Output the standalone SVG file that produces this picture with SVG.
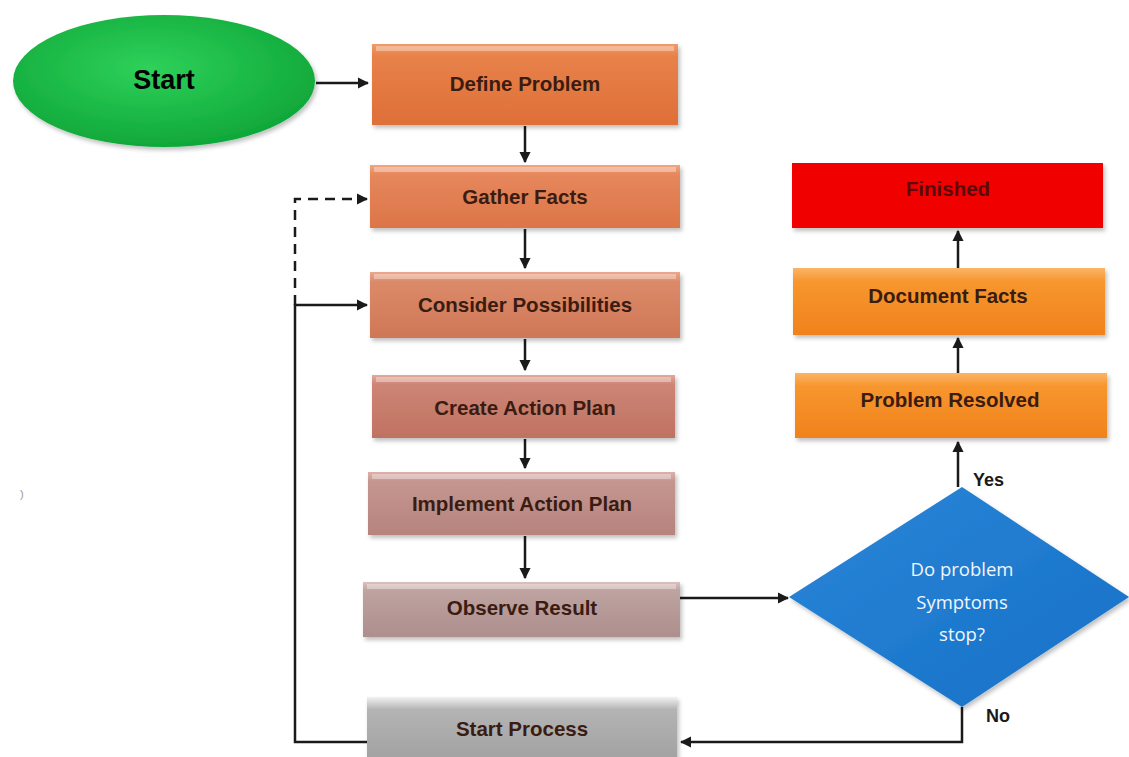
<svg xmlns="http://www.w3.org/2000/svg" width="1129" height="757" viewBox="0 0 1129 757">
  <style>
    .lbl { font-family: "Liberation Sans", Arial, sans-serif; font-weight: bold; font-size: 20.5px; fill: #3a1c12; text-anchor: middle; dominant-baseline: central; }
    .conn { fill: none; stroke: #1a1a1a; stroke-width: 2.5; }
    .dash { stroke-dasharray: 10 7; }
    .tag { font-family: "Liberation Sans", Arial, sans-serif; font-weight: bold; font-size: 18px; fill: #1a1a1a; dominant-baseline: central; }
    .dtext { font-family: "Open Sans", "Liberation Sans", sans-serif; font-size: 18.5px; fill: #f0f6fc; text-anchor: middle; dominant-baseline: central; }
    .hl { fill: #ffffff; opacity: 0.35; }
  </style>
  <defs>
    <marker id="arr" viewBox="0 0 10 10" refX="9" refY="5" markerWidth="4.6" markerHeight="4.6" orient="auto-start-reverse">
      <path d="M0,0 L10,5 L0,10 z" fill="#1a1a1a"/>
    </marker>
    <radialGradient id="gStart" cx="0.45" cy="0.4" r="0.6">
      <stop offset="0" stop-color="#2ed15a"/>
      <stop offset="1" stop-color="#10a83a"/>
    </radialGradient>
    <linearGradient id="gDefine" x1="0" y1="0" x2="0" y2="1">
      <stop offset="0" stop-color="#f09b68"/><stop offset="0.15" stop-color="#e8814a"/><stop offset="1" stop-color="#de6f38"/>
    </linearGradient>
    <linearGradient id="gGather" x1="0" y1="0" x2="0" y2="1">
      <stop offset="0" stop-color="#f2a680"/><stop offset="0.15" stop-color="#e6875c"/><stop offset="1" stop-color="#dc7548"/>
    </linearGradient>
    <linearGradient id="gConsider" x1="0" y1="0" x2="0" y2="1">
      <stop offset="0" stop-color="#eba78c"/><stop offset="0.15" stop-color="#db8a69"/><stop offset="1" stop-color="#cf7756"/>
    </linearGradient>
    <linearGradient id="gCreate" x1="0" y1="0" x2="0" y2="1">
      <stop offset="0" stop-color="#e3a99b"/><stop offset="0.15" stop-color="#cd8575"/><stop offset="1" stop-color="#c07262"/>
    </linearGradient>
    <linearGradient id="gImpl" x1="0" y1="0" x2="0" y2="1">
      <stop offset="0" stop-color="#ddb1aa"/><stop offset="0.15" stop-color="#c59690"/><stop offset="1" stop-color="#b6837d"/>
    </linearGradient>
    <linearGradient id="gObserve" x1="0" y1="0" x2="0" y2="1">
      <stop offset="0" stop-color="#dcc1bf"/><stop offset="0.15" stop-color="#bea3a1"/><stop offset="1" stop-color="#ad8f8d"/>
    </linearGradient>
    <linearGradient id="gProcess" x1="0" y1="0" x2="0" y2="1">
      <stop offset="0" stop-color="#f2f2f2"/><stop offset="0.2" stop-color="#b4b4b4"/><stop offset="1" stop-color="#a2a2a2"/>
    </linearGradient>
    <linearGradient id="gOrange" x1="0" y1="0" x2="0" y2="1">
      <stop offset="0" stop-color="#fbb567"/><stop offset="0.2" stop-color="#f7962e"/><stop offset="1" stop-color="#f1821c"/>
    </linearGradient>
    <linearGradient id="gDiamond" x1="0" y1="0" x2="1" y2="1">
      <stop offset="0" stop-color="#2a86d8"/><stop offset="1" stop-color="#1670c6"/>
    </linearGradient>
    <filter id="sh" x="-5%" y="-10%" width="112%" height="130%">
      <feDropShadow dx="2" dy="3" stdDeviation="2" flood-color="#000" flood-opacity="0.25"/>
    </filter>
  </defs>

  <rect width="1129" height="757" fill="#ffffff"/>

  <!-- connectors -->
  <g id="connectors">
    <path class="conn" d="M316,83 L368,83" marker-end="url(#arr)"/>
    <path class="conn" d="M525,126 L525,162" marker-end="url(#arr)"/>
    <path class="conn" d="M525,229 L525,268" marker-end="url(#arr)"/>
    <path class="conn" d="M525,339 L525,370" marker-end="url(#arr)"/>
    <path class="conn" d="M525,439 L525,468" marker-end="url(#arr)"/>
    <path class="conn" d="M525,536 L525,578" marker-end="url(#arr)"/>
    <path class="conn" d="M680,598 L788,598" marker-end="url(#arr)"/>
    <path class="conn" d="M958,487 L958,442" marker-end="url(#arr)"/>
    <path class="conn" d="M958,373 L958,338" marker-end="url(#arr)"/>
    <path class="conn" d="M958,268 L958,231" marker-end="url(#arr)"/>
    <path class="conn" d="M962,707 L962,742 L681,742" marker-end="url(#arr)"/>
    <path class="conn" d="M367,742 L295,742 L295,305 L367,305" marker-end="url(#arr)"/>
    <path class="conn dash" d="M295,305 L295,199 L367,199" marker-end="url(#arr)"/>
  </g>

  <!-- start terminal -->
  <g id="start">
    <ellipse cx="164" cy="81" rx="151" ry="66" fill="url(#gStart)" filter="url(#sh)"/>
    <text x="164" y="80" text-anchor="middle" dominant-baseline="central" font-family="Liberation Sans, Arial, sans-serif" font-weight="bold" font-size="27" fill="#000">Start</text>
  </g>

  <!-- main column -->
  <g id="define-problem">
    <rect x="372" y="44" width="306" height="81" fill="url(#gDefine)" filter="url(#sh)"/>
    <rect class="hl" x="376" y="46" width="298" height="5"/>
    <text class="lbl" x="525" y="83">Define Problem</text>
  </g>
  <g id="gather-facts">
    <rect x="370" y="165" width="310" height="63" fill="url(#gGather)" filter="url(#sh)"/>
    <rect class="hl" x="374" y="167" width="302" height="5"/>
    <text class="lbl" x="525" y="196">Gather Facts</text>
  </g>
  <g id="consider-possibilities">
    <rect x="370" y="272" width="310" height="66" fill="url(#gConsider)" filter="url(#sh)"/>
    <rect class="hl" x="374" y="274" width="302" height="5"/>
    <text class="lbl" x="525" y="304">Consider Possibilities</text>
  </g>
  <g id="create-action-plan">
    <rect x="372" y="375" width="303" height="63" fill="url(#gCreate)" filter="url(#sh)"/>
    <rect class="hl" x="376" y="377" width="295" height="5"/>
    <text class="lbl" x="525" y="407">Create Action Plan</text>
  </g>
  <g id="implement-action-plan">
    <rect x="368" y="472" width="307" height="63" fill="url(#gImpl)" filter="url(#sh)"/>
    <rect class="hl" x="372" y="474" width="299" height="5"/>
    <text class="lbl" x="522" y="503">Implement Action Plan</text>
  </g>
  <g id="observe-result">
    <rect x="363" y="582" width="317" height="55" fill="url(#gObserve)" filter="url(#sh)"/>
    <rect class="hl" x="367" y="584" width="309" height="5"/>
    <text class="lbl" x="522" y="607">Observe Result</text>
  </g>
  <g id="start-process">
    <rect x="367" y="697" width="310" height="62" fill="url(#gProcess)" filter="url(#sh)"/>
    <text class="lbl" x="522" y="728">Start Process</text>
  </g>

  <!-- resolution column -->
  <g id="finished">
    <rect x="792" y="163" width="311" height="65" fill="#f10606" filter="url(#sh)"/>
    <text class="lbl" x="948" y="188" style="fill:#5a0a0a">Finished</text>
  </g>
  <g id="document-facts">
    <rect x="793" y="268" width="312" height="67" fill="url(#gOrange)" filter="url(#sh)"/>
    <text class="lbl" x="948" y="295">Document Facts</text>
  </g>
  <g id="problem-resolved">
    <rect x="795" y="373" width="312" height="65" fill="url(#gOrange)" filter="url(#sh)"/>
    <text class="lbl" x="950" y="399">Problem Resolved</text>
  </g>

  <!-- decision -->
  <g id="decision">
    <polygon points="962,487 1129,597 962,707 789,597" fill="url(#gDiamond)" filter="url(#sh)"/>
    <text class="dtext" x="962" y="568">Do problem</text>
    <text class="dtext" x="962" y="601">Symptoms</text>
    <text class="dtext" x="962" y="633">stop?</text>
  </g>
  <text class="tag" x="973" y="480">Yes</text>
  <text class="tag" x="986" y="716">No</text>
  <text x="20" y="498" font-family="Liberation Sans, Arial, sans-serif" font-size="11" fill="#999">)</text>
</svg>
